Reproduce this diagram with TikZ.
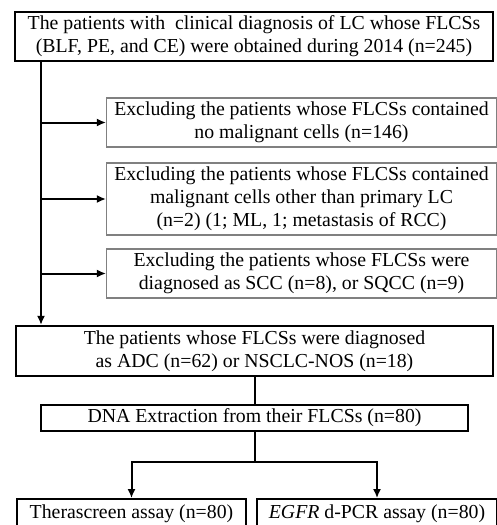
\documentclass[tikz,border=0pt]{standalone}
\usepackage{fontspec}
\setmainfont{Liberation Serif}
\usetikzlibrary{arrows.meta, positioning}

\tikzset{
  boxtext/.style={align=center, inner sep=0pt, font=\fontsize{19.8}{23}\selectfont},
  mainbox/.style={boxtext, draw, line width=2.2pt},
  exclbox/.style={boxtext, draw=black!50, line width=1.1pt,
    minimum width=390pt},
  assaybox/.style={boxtext, draw, line width=1.8pt, minimum height=26pt},
  link/.style={line width=2pt},
}

\begin{document}
\begin{tikzpicture}[x=1pt, y=-1pt, >={Latex[length=9pt,width=8pt]}]
  \useasboundingbox (0,0) rectangle (497,525);
  % main column
  \node[mainbox, minimum width=478pt, minimum height=49pt] (pts) at (254,36.5)
    {The patients with\ \ clinical diagnosis of LC whose FLCSs\\
     (BLF, PE, and CE) were obtained during 2014 (n=245)};
  \node[exclbox, minimum height=49pt] (ex1) at (301.5,122.5)
    {Excluding the patients whose FLCSs contained\\
     no malignant cells (n=146)};
  \node[exclbox, minimum height=72pt] (ex2) at (301.5,199)
    {Excluding the patients whose FLCSs contained\\
     malignant cells other than primary LC\\
     (n=2) (1; ML, 1; metastasis of RCC)};
  \node[exclbox, minimum height=49pt] (ex3) at (301.5,273.5)
    {Excluding the patients whose FLCSs were\\
     diagnosed as SCC (n=8), or SQCC (n=9)};
  \node[mainbox, minimum width=477pt, minimum height=50pt] (adc) at (254.5,351)
    {The patients whose FLCSs were diagnosed\\
     as ADC (n=62) or NSCLC-NOS (n=18)};
  \node[assaybox, minimum width=427pt] (dna) at (254.5,418)
    {DNA Extraction from their FLCSs (n=80)};
  % assays
  \node[assaybox, minimum width=229pt, minimum height=30pt] (thera) at (131.5,514)
    {Therascreen assay (n=80)};
  \node[assaybox, minimum width=240pt, minimum height=30pt] (egfr) at (377,514)
    {\textit{EGFR} d-PCR assay (n=80)};

  \coordinate (spine) at (41,0);
  \coordinate (split) at (254,462);
  \draw[link, ->] (pts.south -| spine) -- (adc.north -| spine);
  \draw[link, ->] (ex1.west -| spine) -- (ex1.west);
  \draw[link, ->] (ex2.west -| spine) -- (ex2.west);
  \draw[link, ->] (ex3.west -| spine) -- (ex3.west);
  \draw[link] (adc.south -| dna) -- (dna.north);
  \draw[link] (dna.south) -- (dna.south |- split);
  \draw[link, ->] (dna.south |- split) -| (thera.north);
  \draw[link, ->] (dna.south |- split) -| (egfr.north);
\end{tikzpicture}
\end{document}
